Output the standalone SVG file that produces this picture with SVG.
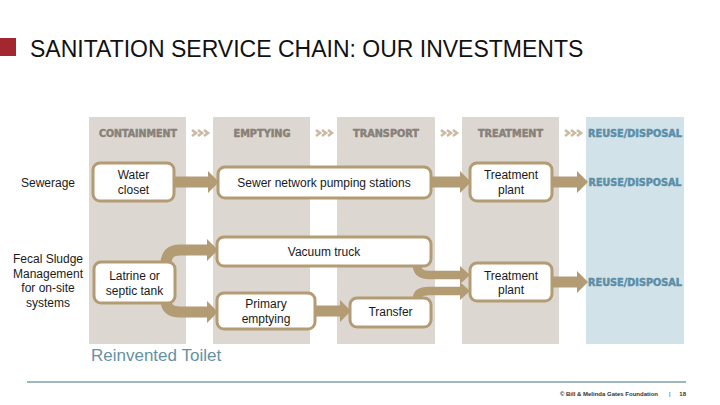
<svg xmlns="http://www.w3.org/2000/svg" width="720" height="405" viewBox="0 0 720 405">
<defs>
<style>
.col{fill:#DCD8D1}
.colb{fill:#D2E2E9}
.hdr{font-family:"DejaVu Sans Condensed","DejaVu Sans",sans-serif;font-weight:bold;font-size:10.5px;fill:#88817A;stroke:#88817A;stroke-width:0.5;text-anchor:middle}
.hdrb{font-family:"DejaVu Sans Condensed","DejaVu Sans",sans-serif;font-weight:bold;font-size:10.5px;fill:#5B8FA8;stroke:#5B8FA8;stroke-width:0.5;text-anchor:middle}
.box{fill:#FFFFFF;stroke:#B39B74;stroke-width:3}
.t{font-family:"Liberation Sans",Arial,sans-serif;font-size:12px;fill:#1A1A1A;text-anchor:middle}
.conn{fill:none;stroke:#B39B74;stroke-width:11}
.conns{fill:none;stroke:#B39B74;stroke-width:8.5}
.chev{fill:none;stroke:#C9BBA4;stroke-width:2.6}
</style>
<marker id="ah" markerUnits="userSpaceOnUse" markerWidth="12" markerHeight="22" refX="0" refY="11" orient="auto">
<path d="M0,0 L11,11 L0,22 z" fill="#B39B74"/>
</marker>
<marker id="ahs" markerUnits="userSpaceOnUse" markerWidth="12" markerHeight="18" refX="0" refY="9" orient="auto">
<path d="M0,0 L10,9 L0,18 z" fill="#B39B74"/>
</marker>
</defs>
<rect width="720" height="405" fill="#FFFFFF"/>

<g id="title">
<rect x="0" y="38" width="16" height="18" fill="#A3272F"/>
<text x="30" y="57" font-family="Liberation Sans,Arial,sans-serif" font-size="23" fill="#111111">SANITATION SERVICE CHAIN: OUR INVESTMENTS</text>
</g>

<g id="columns">
<rect class="col" x="89" y="117" width="97" height="227"/>
<rect class="col" x="213" y="117" width="97" height="227"/>
<rect class="col" x="337" y="117" width="98" height="227"/>
<rect class="col" x="462" y="117" width="97" height="227"/>
<rect class="colb" x="586" y="117" width="98" height="227"/>
<text class="hdr" x="138" y="137" textLength="78" lengthAdjust="spacingAndGlyphs">CONTAINMENT</text>
<text class="hdr" x="262" y="137" textLength="57" lengthAdjust="spacingAndGlyphs">EMPTYING</text>
<text class="hdr" x="386" y="137" textLength="66" lengthAdjust="spacingAndGlyphs">TRANSPORT</text>
<text class="hdr" x="510.5" y="137" textLength="65" lengthAdjust="spacingAndGlyphs">TREATMENT</text>
<text class="hdrb" x="635" y="137" textLength="94" lengthAdjust="spacingAndGlyphs">REUSE/DISPOSAL</text>
<path class="chev" d="M192,130 l4,3 l-4,3 M198,130 l4,3 l-4,3 M204,130 l4,3 l-4,3"/>
<path class="chev" d="M316,130 l4,3 l-4,3 M322,130 l4,3 l-4,3 M328,130 l4,3 l-4,3"/>
<path class="chev" d="M441,130 l4,3 l-4,3 M447,130 l4,3 l-4,3 M453,130 l4,3 l-4,3"/>
<path class="chev" d="M565,130 l4,3 l-4,3 M571,130 l4,3 l-4,3 M577,130 l4,3 l-4,3"/>
</g>

<g id="row-labels">
<text class="t" x="48" y="187">Sewerage</text>
<text class="t" x="48" y="263">Fecal Sludge</text>
<text class="t" x="48" y="278">Management</text>
<text class="t" x="48" y="292">for on-site</text>
<text class="t" x="48" y="307">systems</text>
</g>

<g id="connectors">
<path class="conn" d="M174,182 H208" marker-end="url(#ah)"/>
<path class="conn" d="M431,182 H460" marker-end="url(#ah)"/>
<path class="conn" d="M552,182 H577" marker-end="url(#ah)"/>
<path class="conn" d="M166,264 Q166,250 180,250 H207" marker-end="url(#ah)"/>
<path class="conn" d="M166,300 Q166,312 180,312 H207" marker-end="url(#ah)"/>
<path class="conn" d="M315,311 H340" marker-end="url(#ah)"/>
<path class="conns" d="M417,265 Q417,275 429,275 H460" marker-end="url(#ahs)"/>
<path class="conns" d="M417,299 Q417,291 429,291 H460" marker-end="url(#ahs)"/>
<path class="conn" d="M552,282 H577" marker-end="url(#ah)"/>
</g>

<g id="water-closet">
<rect class="box" x="93" y="163" width="81" height="38" rx="7"/>
<text class="t" x="133.5" y="179">Water</text>
<text class="t" x="133.5" y="194">closet</text>
</g>
<g id="sewer-network">
<rect class="box" x="218" y="167" width="213" height="31" rx="7"/>
<text class="t" x="324" y="187">Sewer network pumping stations</text>
</g>
<g id="treatment-plant-1">
<rect class="box" x="470" y="163" width="82" height="38" rx="7"/>
<text class="t" x="511" y="179">Treatment</text>
<text class="t" x="511" y="194">plant</text>
</g>
<g id="reuse-1">
<text class="hdrb" x="635" y="186" textLength="93" lengthAdjust="spacingAndGlyphs">REUSE/DISPOSAL</text>
</g>

<g id="latrine">
<rect class="box" x="94" y="262" width="81" height="41" rx="7"/>
<text class="t" x="134.5" y="280">Latrine or</text>
<text class="t" x="134.5" y="295">septic tank</text>
</g>
<g id="vacuum-truck">
<rect class="box" x="217" y="237" width="214" height="29" rx="7"/>
<text class="t" x="324" y="256">Vacuum truck</text>
</g>
<g id="primary-emptying">
<rect class="box" x="217" y="293" width="98" height="36" rx="7"/>
<text class="t" x="266" y="308">Primary</text>
<text class="t" x="266" y="323">emptying</text>
</g>
<g id="transfer">
<rect class="box" x="350" y="298" width="81" height="29" rx="7"/>
<text class="t" x="390.5" y="316">Transfer</text>
</g>
<g id="treatment-plant-2">
<rect class="box" x="470" y="263" width="82" height="38" rx="7"/>
<text class="t" x="511" y="280">Treatment</text>
<text class="t" x="511" y="294">plant</text>
</g>
<g id="reuse-2">
<text class="hdrb" x="635" y="286" textLength="94" lengthAdjust="spacingAndGlyphs">REUSE/DISPOSAL</text>
</g>

<g id="footer">
<text x="91" y="361" font-family="Liberation Sans,Arial,sans-serif" font-size="17" fill="#6592A2">Reinvented Toilet</text>
<line x1="27" y1="382" x2="686" y2="382" stroke="#7F9EA7" stroke-width="1.5"/>
<text x="658" y="396" font-family="Liberation Sans,Arial,sans-serif" font-size="6" font-weight="bold" fill="#333333" text-anchor="end">© Bill &amp; Melinda Gates Foundation</text>
<text x="669" y="396" font-family="Liberation Sans,Arial,sans-serif" font-size="6" fill="#333333">|</text>
<text x="686" y="396" font-family="Liberation Sans,Arial,sans-serif" font-size="6" font-weight="bold" fill="#333333" text-anchor="end">18</text>
</g>
</svg>
